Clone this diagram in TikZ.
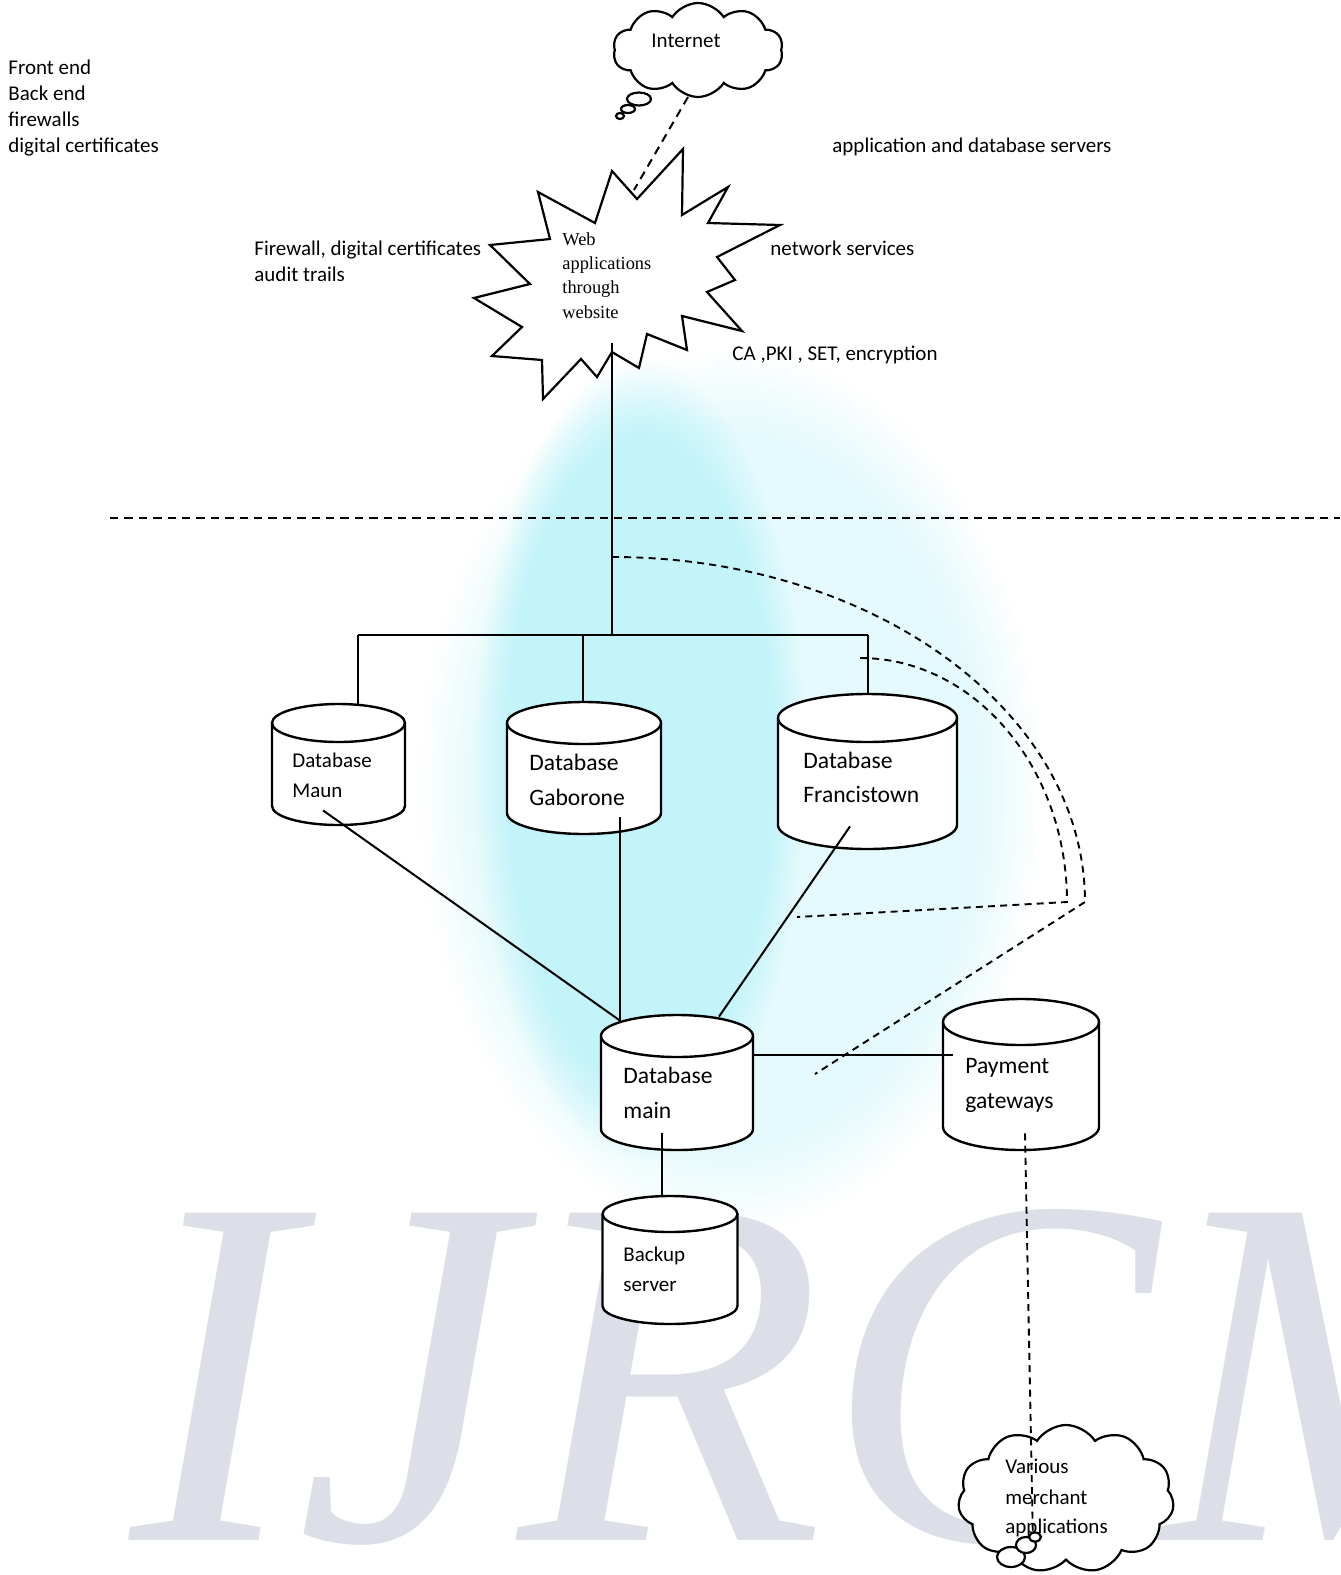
\documentclass[tikz,border=0pt]{standalone}
\usepackage{fontspec}
\setmainfont{Carlito}
\newfontfamily\tnr{Liberation Serif}
\usetikzlibrary{shapes.symbols,fadings,calc}
\definecolor{glowA}{RGB}{194,244,250}
\definecolor{glowB}{RGB}{228,250,252}
\definecolor{wmgray}{RGB}{220,223,231}
\tikzset{
  lbl/.style={anchor=west, inner sep=0pt, text height=1.5ex, text depth=.25ex, font=\fontsize{10.5}{12}\selectfont},
  lblb/.style={lbl, font=\fontsize{11.8}{14}\selectfont},
  webtxt/.style={anchor=west, inner sep=0pt, text height=1.5ex, text depth=.25ex, font=\tnr\fontsize{9.2}{11}\selectfont},
  ln/.style={line width=1pt},
  dbline/.style={line width=1.2pt, fill=white},
  dashA/.style={line width=1pt, dash pattern=on 4.2pt off 3pt},
  dashB/.style={line width=0.95pt, dash pattern=on 3.5pt off 2.6pt},
  cloudst/.style={cloud, draw, line width=1.1pt, fill=white, cloud puff arc=115, inner sep=0pt},
  bubble/.style={draw, line width=1.1pt, fill=white},
}
\newcommand\dbcyl[6]{% name, cx, rx, ytop, ybot, ry  (pixel units, y downward)
  \draw[dbline] ({#2-#3},{-(#4+#6)}) -- ({#2-#3},{-(#5-#6)})
     arc[start angle=180,end angle=360,x radius=#3,y radius=#6]
     -- ({#2+#3},{-(#4+#6)})
     arc[start angle=0,end angle=180,x radius=#3,y radius=#6] -- cycle;
  \draw[dbline, fill=none] ({#2-#3},{-(#4+#6)}) arc[start angle=180,end angle=360,x radius=#3,y radius=#6];
  \node[inner sep=0pt, minimum width={#3*1pt}, minimum height={(#5-#4)*0.5pt}] (#1) at (#2,{-(#4+#5)/2}) {};
}
\begin{document}
\begin{tikzpicture}[x=0.5pt,y=0.5pt]
\useasboundingbox (0,0) rectangle (1340,-1575);
\fill[white] (0,0) rectangle (1340,-1575);

% watermark
\fill[glowB, path fading=circle with fuzzy edge 20 percent] (730,-790) ellipse [x radius=310, y radius=440];
\fill[glowA, path fading=circle with fuzzy edge 20 percent] (640,-760) ellipse [x radius=165, y radius=400];
\node[text=wmgray, inner sep=0pt, anchor=base west, font=\tnr\itshape\fontsize{250}{250}\selectfont] (wm) at (130,-1540) {IJRCM};

% left / side texts
\node[lbl] (t1) at (8,-68.3) {Front end};
\node[lbl] (t2) at (8,-94.4) {Back end};
\node[lbl] (t3) at (8,-120.5) {firewalls};
\node[lbl] (t4) at (8,-146.7) {digital certificates};
\node[lbl] (t5) at (832,-146.7) {application and database servers};
\node[lbl] (t6) at (254,-250) {Firewall, digital certificates};
\node[lbl] (t7) at (254,-276) {audit trails};
\node[lbl] (t8) at (770,-250) {network services};
\node[lbl] (t9) at (732,-355) {CA ,PKI , SET, encryption};

% Internet cloud
\node[cloudst, cloud puffs=10, aspect=1.85, minimum width=85pt, minimum height=47pt] (inet) at (698,-50) {};
\node[lbl] (inettxt) at (651,-42) {Internet};
\draw[bubble] (639,-99) ellipse [x radius=12, y radius=6.5];
\draw[bubble] (628,-109) ellipse [x radius=7, y radius=4];
\draw[bubble] (620,-116) ellipse [x radius=4, y radius=3];

% starburst
\draw[line width=1.1pt, fill=white] (683,-149) -- (682,-215) -- (728,-187) -- (708,-223) -- (780,-225)
  -- (717,-257) -- (735,-280) -- (707,-292) -- (742,-331) -- (682,-316) -- (687,-350)
  -- (647,-334) -- (639,-368) -- (612,-352) -- (597,-377) -- (581,-359) -- (543,-399)
  -- (542,-360) -- (492,-356) -- (522,-327) -- (474,-298) -- (530,-284) -- (490,-245)
  -- (550,-239) -- (538,-192) -- (595,-223) -- (612,-171) -- (637,-199) -- cycle;
\node[webtxt] (w1) at (562,-240) {Web};
\node[webtxt] (w2) at (562,-264) {applications};
\node[webtxt] (w3) at (562,-288) {through};
\node[webtxt] (w4) at (562,-313) {website};
\coordinate (webtop) at (634,-190);
\coordinate (webbot) at (612,-343);
\draw[dashA] ([shift={(-10,-47)}]inet.center) -- (webtop);

% separator
\coordinate (sepL) at (110,-518);
\coordinate (sepR) at (1340,-518);
\draw[dashA] (sepL) -- (sepR);

% databases
\dbcyl{maun}{338.5}{66.5}{704}{825}{19}
\dbcyl{gab}{584}{77}{702}{834}{21}
\dbcyl{fran}{867.5}{89.5}{694}{849}{24}
\dbcyl{main}{677}{76}{1015}{1150}{21}
\dbcyl{backup}{670}{67.5}{1196}{1324}{18}
\dbcyl{pay}{1021}{78}{999}{1150}{23}

\node[lbl] (d1) at (292,-762) {Database};
\node[lbl] (d2) at (292,-792) {Maun};
\node[lblb] (d3) at (529,-765) {Database};
\node[lblb] (d4) at (529,-800) {Gaborone};
\node[lblb] (d5) at (803,-763) {Database};
\node[lblb] (d6) at (803,-797) {Francistown};
\node[lblb] (d7) at (623,-1078) {Database};
\node[lblb] (d8) at (623,-1113) {main};
\node[lblb] (d9) at (965,-1068) {Payment};
\node[lblb] (d10) at (965,-1103) {gateways};
\node[lbl] (d11) at (623,-1256) {Backup};
\node[lbl] (d12) at (623,-1286) {server};

% bus
\coordinate (busj) at (612,-635);
\coordinate (busL) at (358,-635);
\coordinate (busM) at (583,-635);
\coordinate (busR) at (868,-635);
\draw[ln] (webbot) -- (busj);
\draw[ln] (busL) -- (busR);
\draw[ln] (busL) -- (busL |- maun.north);
\draw[ln] (busM) -- (busM |- gab.north);
\draw[ln] (busR) -- (busR |- fran.north);

% links to main
\draw[ln] ([shift={(-15.5,15)}]maun.south) -- ([shift={(-57,-6)}]main.north);
\draw[ln] ([shift={(36,17)}]gab.south) -- ([shift={(-57,-6)}]main.north);
\draw[ln] ([shift={(-17.5,23)}]fran.south) -- ([shift={(42,-2)}]main.north);
\draw[ln] ([shift={(76,-40)}]main.north) -- ([shift={(10,-56)}]pay.north west);
\draw[ln] ([shift={(-15,17)}]main.south) -- ([shift={(-8,-1)}]backup.north);

% dashed curves
\coordinate (arcA) at (612,-557);
\coordinate (arcAend) at (815,-1074);
\coordinate (arcB) at (860,-658);
\coordinate (arcBend) at (797,-917);
\draw[dashB] (arcA) arc[start angle=90, end angle=0, x radius=473, y radius=345] -- (arcAend);
\draw[dashB] (arcB) arc[start angle=90, end angle=0, x radius=207, y radius=244] -- (arcBend);

% merchant cloud
\node[cloudst, cloud puffs=11, aspect=1.45, minimum width=108pt, minimum height=74pt] (merch) at (1066,-1499) {};
\draw[dashB] ([shift={(4,17)}]pay.south) -- ([shift={(-33,-44)}]merch.center);
\node[lbl] (m1) at (1005,-1468) {Various};
\node[lbl] (m2) at (1005,-1499) {merchant};
\draw[bubble] (1011,-1557) ellipse [x radius=14, y radius=10];
\draw[bubble] (1026,-1545) ellipse [x radius=10, y radius=8];
\draw[bubble] (1035,-1537) ellipse [x radius=6, y radius=4.5];
\node[lbl] (m3) at (1005,-1528) {applications};
\end{tikzpicture}
\end{document}
